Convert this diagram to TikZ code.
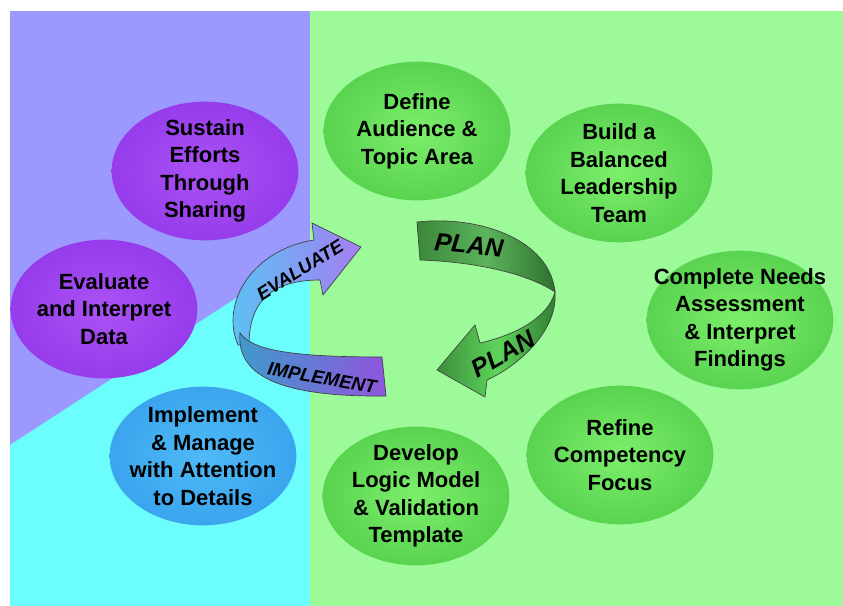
\documentclass[tikz,border=0pt]{standalone}
\usepackage{fontspec}
\setmainfont{Liberation Sans}
\usetikzlibrary{shapes.geometric}
\definecolor{bgPurple}{HTML}{9B99FD}
\definecolor{bgCyan}{HTML}{6CFDFD}
\definecolor{bgGreen}{HTML}{9CFB98}
\definecolor{vioIn}{HTML}{AA52F5}
\definecolor{vioOut}{HTML}{8226E2}
\definecolor{blueIn}{HTML}{4FBAF6}
\definecolor{blueOut}{HTML}{2690E6}
\definecolor{grnIn}{HTML}{7CEF6A}
\definecolor{grnOut}{HTML}{37B737}
\definecolor{evalL}{HTML}{56C6F4}
\definecolor{evalR}{HTML}{A57EF2}
\definecolor{implL}{HTML}{3F9BCB}
\definecolor{implR}{HTML}{8F55DD}
\definecolor{planA}{HTML}{3B873B}
\definecolor{planB}{HTML}{5CB45C}
\definecolor{planC}{HTML}{2E702E}
\definecolor{planD}{HTML}{3C8E3C}
\definecolor{planE}{HTML}{5ED45A}
\definecolor{planF}{HTML}{2F7A2F}
\pgfdeclareradialshading{vioBlob}{\pgfpoint{0bp}{0bp}}{color(0bp)=(vioIn); color(50bp)=(vioOut); color(72bp)=(vioOut)}
\pgfdeclareradialshading{blueBlob}{\pgfpoint{0bp}{0bp}}{color(0bp)=(blueIn); color(50bp)=(blueOut); color(72bp)=(blueOut)}
\pgfdeclareradialshading{grnBlob}{\pgfpoint{0bp}{0bp}}{color(0bp)=(grnIn); color(50bp)=(grnOut); color(72bp)=(grnOut)}

\begin{document}
\begin{tikzpicture}[x=0.75pt, y=-0.75pt,
  stage/.style={ellipse, minimum width=140pt, minimum height=104pt,
                inner xsep=-25pt, inner ysep=-12pt,
                align=center, font=\fontsize{16.5}{20.6}\selectfont\bfseries},
  vioblob/.style={stage, shading=vioBlob},
  blueblob/.style={stage, shading=blueBlob},
  grnblob/.style={stage, shading=grnBlob},
  ribbon/.style={draw=black!75, line width=0.5pt},
  tag/.style={inner sep=0pt, font=\fontsize{14}{16}\selectfont\bfseries\itshape},
  bigtag/.style={tag, font=\fontsize{19}{22}\selectfont\bfseries\itshape},
]
  \useasboundingbox (0,0) rectangle (843,606);
  % background panels
  \fill[bgPurple] (10,11) rectangle (310,606);
  \fill[bgCyan] (10,445) -- (310,250) -- (310,606) -- (10,606) -- cycle;
  \fill[bgGreen] (310,11) rectangle (843,606);

  \node[vioblob] (sustain) at (205,171) {Sustain\\Efforts\\Through\\Sharing};
  \node[vioblob] (evaldata) at (104,309) {Evaluate\\and Interpret\\Data};
  \node[blueblob] (implement) at (203,456) {Implement\\\& Manage\\with Attention\\to Details};
  \node[grnblob] (define) at (417,131) {Define\\Audience \&\\Topic Area};
  \node[grnblob] (build) at (619,173) {Build a\\Balanced\\Leadership\\Team};
  \node[grnblob] (needs) at (740,320) {Complete Needs\\Assessment\\\& Interpret\\Findings};
  \node[grnblob] (refine) at (620,455) {Refine\\Competency\\Focus};
  \node[grnblob] (develop) at (416,496) {Develop\\Logic Model\\\& Validation\\Template};

  % left ribbon: evaluate / implement
  \draw[ribbon, left color=evalL, right color=evalR]
    (238,345) .. controls (220,303) and (252,250) .. (314,240)
    -- (312,223) -- (361,247) -- (323,295) -- (320,280)
    .. controls (268,280) and (249,305) .. (249,345) -- cycle;
  \draw[ribbon, left color=implL, right color=implR]
    (240,333) .. controls (252,350) and (290,357) .. (382,357)
    -- (386,396) .. controls (290,397) and (236,380) .. (240,333) -- cycle;
  % right ribbon: plan
  \draw[ribbon, left color=planA, right color=planC, middle color=planB]
    (417,222) .. controls (480,215) and (550,240) .. (555,292)
    .. controls (530,275) and (480,262) .. (420,260) -- cycle;
  \draw[ribbon, left color=planD, right color=planF, middle color=planE]
    (555,292) .. controls (558,330) and (520,365) .. (487,380)
    -- (485,397) -- (437,370) -- (475,325) -- (480,343)
    .. controls (515,335) and (548,318) .. (555,292) -- cycle;

  \node[tag, rotate=32] (evaltag) at (300,270) {EVALUATE};
  \node[tag, rotate=-10] (impltag) at (322,378) {IMPLEMENT};
  \node[bigtag, rotate=-6] (plantop) at (469,245) {PLAN};
  \node[bigtag, rotate=30] (planlow) at (503,354) {PLAN};
\end{tikzpicture}
\end{document}
